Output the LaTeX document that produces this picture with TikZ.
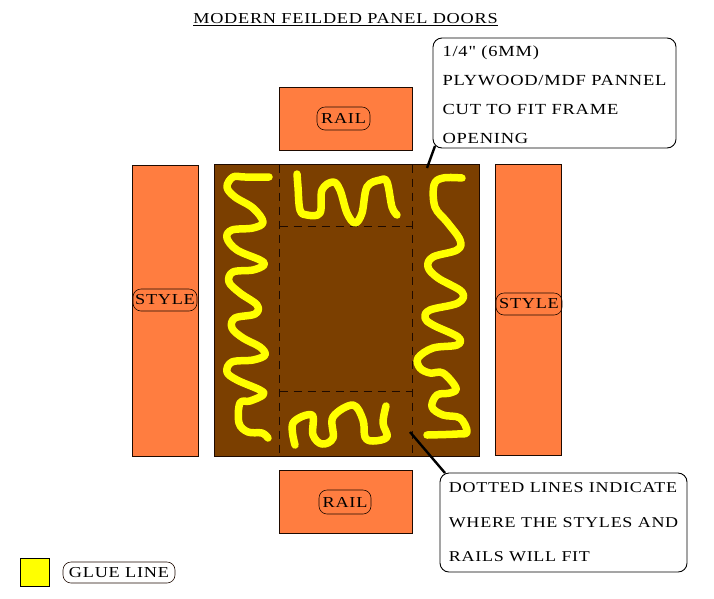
\documentclass[tikz,border=0pt]{standalone}
\usepackage{fontspec}
\newfontfamily\labfont{Liberation Serif}[FakeStretch=1.2,LetterSpace=5]
\definecolor{woodorange}{HTML}{FF7D40}
\definecolor{doorbrown}{HTML}{7B3F00}
\definecolor{glueyellow}{HTML}{FFFF00}
\definecolor{darkedge}{HTML}{1E0A00}
\tikzset{
  x=1pt,y=-1pt,
  every node/.style={outer sep=0pt},
  wood/.style={draw=darkedge,fill=woodorange,line width=1pt,inner sep=0pt,anchor=north west},
  door/.style={draw=darkedge,fill=doorbrown,line width=1pt,inner sep=0pt,anchor=north west},
  pill/.style={draw=darkedge,line width=.6pt,rounded corners=8pt,inner sep=0pt,anchor=north west,font=\labfont\fontsize{15.2}{16}\selectfont,align=center},
  callout/.style={draw=black,fill=white,line width=.9pt,rounded corners=9pt,inner sep=0pt,anchor=north west,align=left},
  fitline/.style={draw=darkedge,line width=.8pt,dash pattern=on 8pt off 6pt},
  glue/.style={draw=glueyellow,line width=7.5pt,line cap=round,line join=round},
  leader/.style={draw=black,line width=2.4pt},
}
\begin{document}
\begin{tikzpicture}
\useasboundingbox (0,0) rectangle (714,598);
\fill[white] (0,0) rectangle (714,598);
\node (title) at (345.5,20) {\labfont\fontsize{15.2}{16}\selectfont\underline{MODERN FEILDED PANEL DOORS}};
\node[wood,minimum width=133pt,minimum height=63pt] (railtop) at (279,87) {};
\node[wood,minimum width=133pt,minimum height=63pt] (railbot) at (279,470) {};
\node[wood,minimum width=66pt,minimum height=291pt] (styleleft) at (132.5,165) {};
\node[wood,minimum width=66pt,minimum height=291pt] (styleright) at (495.5,164.5) {};
\node[door,minimum width=265pt,minimum height=291.5pt] (doorpanel) at (214.5,164.5) {};
\coordinate (fa) at (279.5,164.5); \coordinate (fb) at (279.5,456);
\coordinate (fc) at (412,164.5); \coordinate (fd) at (412,456);
\coordinate (fe) at (279.5,226); \coordinate (ff) at (412,226);
\coordinate (fg) at (279.5,391); \coordinate (fh) at (412,391);
\draw[fitline] (fa) -- (fb);
\draw[fitline] (fc) -- (fd);
\draw[fitline] (fe) -- (ff);
\draw[fitline] (fg) -- (fh);
\draw[glue] plot[smooth,tension=.6] coordinates {(269,177)(245,177)(233,177)(227,187)(235,197)(253,208)(263,222)(253,228)(232,230)(227,238)(237,250)(260,260)(264,265)(253,270)(233,272)(229,282)(240,293)(257,305)(255,314)(235,318)(232,328)(243,338)(260,347)(265,355)(253,360)(232,362)(227,372)(237,380)(260,390)(263,395)(250,401)(240,403)(239,423)(248,432)(262,433)(268,438)};
\draw[glue] plot[smooth,tension=.6] coordinates {(297,174)(298,187)(300,210)(307,215)(320,213)(322,190)(333,182)(340,190)(347,213)(355,223)(362,213)(367,187)(380,180)(387,182)(392,207)(397,215)};
\draw[glue] plot[smooth,tension=.6] coordinates {(462,178)(443,178)(434,185)(435,207)(447,222)(460,240)(457,250)(433,257)(428,267)(438,278)(462,292)(458,303)(430,310)(425,318)(433,325)(458,337)(457,345)(433,348)(418,358)(420,368)(430,373)(443,373)(456,388)(450,393)(437,395)(432,407)(443,415)(460,418)(467,432)(457,434)(427,435)};
\draw[glue] plot[smooth,tension=.6] coordinates {(295,445)(293,423)(312,415)(313,435)(322,444)(333,438)(333,417)(353,405)(363,420)(365,437)(373,441)(387,437)(383,423)(386,406)};
\node[pill,minimum width=53pt,minimum height=23pt] (lblrailtop) at (317,107) {RAIL};
\node[pill,minimum width=52pt,minimum height=24pt] (lblrailbot) at (319,490) {RAIL};
\node[pill,minimum width=64pt,minimum height=22pt] (lblstyleleft) at (133,289) {STYLE};
\node[pill,minimum width=66pt,minimum height=22pt] (lblstyleright) at (496,293) {STYLE};
\node[callout,minimum width=243pt,minimum height=110pt,font=\labfont\fontsize{15.4}{29}\selectfont] (noteplywood) at (433,38) {\rule{0pt}{15pt}1/4" (6MM)\\PLYWOOD/MDF PANNEL\\CUT TO FIT FRAME\\OPENING};
\node[callout,minimum width=247pt,minimum height=99pt,font=\labfont\fontsize{15}{34.5}\selectfont] (notedotted) at (440,473) {DOTTED LINES INDICATE\\WHERE THE STYLES AND\\RAILS WILL FIT};
\coordinate (leadtop) at (427,168);
\coordinate (leadbot) at (410,432);
\draw[leader] ([xshift=2pt,yshift=2pt]noteplywood.south west) -- (leadtop);
\draw[leader] ([xshift=5pt]notedotted.north west) -- (leadbot);
\node[draw=black,fill=glueyellow,line width=.9pt,inner sep=0pt,minimum width=29pt,minimum height=28pt,anchor=north west] (swatch) at (20,558) {};
\node[pill,minimum width=112pt,minimum height=21pt] (lblglue) at (63,562) {GLUE LINE};
\end{tikzpicture}
\end{document}
